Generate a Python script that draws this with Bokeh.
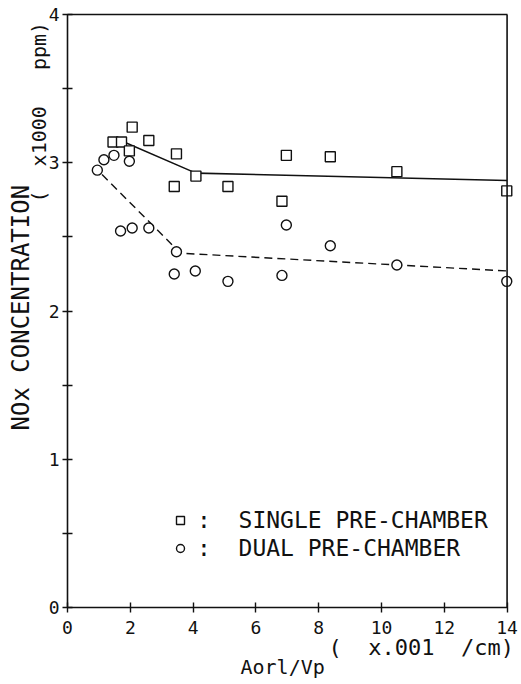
from bokeh.plotting import figure
from bokeh.models import (Range1d, FixedTicker, Legend, LegendItem,
                          LinearAxis, Span, Title)
from bokeh.embed import file_html
from bokeh.resources import INLINE

# ---------------- data ----------------
single_x = [1.45, 1.72, 1.97, 2.06, 2.59, 3.40, 3.47, 4.09, 5.11, 6.83, 6.97, 8.37, 10.49, 13.99]
single_y = [3.14, 3.14, 3.08, 3.24, 3.15, 2.84, 3.06, 2.91, 2.84, 2.74, 3.05, 3.04, 2.94, 2.81]

dual_x = [0.95, 1.16, 1.48, 1.97, 1.69, 2.06, 2.59, 3.47, 3.40, 4.07, 5.11, 6.83, 6.97, 8.37, 10.49, 13.99]
dual_y = [2.95, 3.02, 3.05, 3.01, 2.54, 2.56, 2.56, 2.40, 2.25, 2.27, 2.20, 2.24, 2.58, 2.44, 2.31, 2.20]

single_fit_x = [1.47, 4.09, 14.0]
single_fit_y = [3.17, 2.93, 2.88]
dual_fit_x = [1.10, 3.60, 14.0]
dual_fit_y = [2.92, 2.39, 2.27]

x_ticks = [0, 2, 4, 6, 8, 10, 12, 14]
y_ticks = [0, 1, 2, 3, 4]
y_minor_ticks = [0.5, 1.5, 2.5, 3.5]

NB = "\u00a0"  # keeps the plotter's wide gaps from collapsing
y_title = "NOx CONCENTRATION"
y_unit = "(" + NB * 2 + "x1000" + NB * 3 + "ppm)"
x_title = "Aorl/Vp"
x_unit = "(" + NB * 2 + "x.001" + NB * 2 + "/cm)"
single_label = ":" + NB * 2 + "SINGLE PRE-CHAMBER"
dual_label = ":" + NB * 2 + "DUAL PRE-CHAMBER"

FONT = "DejaVu Sans Mono"
INK = "#111111"

# ---------------- figure ----------------
p = figure(width=521, height=684, output_backend="svg", toolbar_location=None,
           x_range=Range1d(0, 14.3), y_range=Range1d(0, 4),
           min_border_left=67, min_border_right=5,
           min_border_top=14, min_border_bottom=77)
p.outline_line_color = None
p.xgrid.visible = False
p.ygrid.visible = False
p.background_fill_color = "white"
p.border_fill_color = "white"

# axes
xa = p.xaxis[0]
xa.ticker = FixedTicker(ticks=x_ticks)
xa.bounds = (0, 14)
xa.major_tick_in = 5
xa.major_tick_out = 5
xa.major_label_standoff = 8
ya = p.yaxis[0]
ya.ticker = FixedTicker(ticks=y_ticks, minor_ticks=y_minor_ticks)
ya.major_tick_in = 5
ya.major_tick_out = 5
ya.minor_tick_in = 5
ya.minor_tick_out = 5
ya.major_label_standoff = 3
for ax in (xa, ya):
    ax.axis_line_color = INK
    ax.axis_line_width = 1.6
    ax.major_tick_line_color = INK
    ax.major_tick_line_width = 1.4
    ax.minor_tick_line_width = 1.4
    ax.major_label_text_font = FONT
    ax.major_label_text_font_size = "18px"
    ax.major_label_text_color = INK
xa.minor_tick_line_color = None
ya.minor_tick_line_color = INK

# top border as an axis line limited to 0..14
top = LinearAxis(ticker=FixedTicker(ticks=[]), bounds=(0, 14),
                 major_tick_out=0, major_tick_in=0, major_label_standoff=0,
                 axis_line_color=INK, axis_line_width=1.6)
p.add_layout(top, "above")
# right border at x = 14
p.add_layout(Span(location=14, dimension="height", line_color=INK, line_width=1.6))

# ---------------- fitted lines ----------------
p.line(single_fit_x, single_fit_y, line_color=INK, line_width=1.6)
p.line(dual_fit_x, dual_fit_y, line_color=INK, line_width=1.4, line_dash="8 5")

# ---------------- points ----------------
sq = p.scatter(single_x, single_y, marker="square", size=10, fill_color="white",
               line_color=INK, line_width=1.4)
ci = p.scatter(dual_x, dual_y, marker="circle", size=10, fill_color="white",
               line_color=INK, line_width=1.4)

# ---------------- legend (one box per row, plotter-style tight rows) ----------------
def legend_row(label, renderer, loc):
    return Legend(items=[LegendItem(label=label, renderers=[renderer])],
                  location=loc, border_line_color=None,
                  background_fill_alpha=0, padding=0, margin=0,
                  glyph_width=20, glyph_height=20, label_standoff=7,
                  label_text_font=FONT, label_text_font_size="23px",
                  label_text_color=INK)

p.add_layout(legend_row(single_label, sq, (103, 74)))
p.add_layout(legend_row(dual_label, ci, (103, 46)))

# ---------------- axis titles (stacked outward from the frame) ----------------
def title(text, size, offset, standoff):
    return Title(text=text, align="left", offset=offset, standoff=standoff,
                 text_font=FONT, text_font_size=size,
                 text_font_style="normal", text_color=INK)

p.add_layout(title(y_unit, "20px", 405, -11), "left")
p.add_layout(title(y_title, "24px", 177, -9), "left")
p.add_layout(title(x_unit, "22px", 261, -8), "below")
p.add_layout(title(x_title, "20px", 173, -6), "below")

open("out.html", "w").write(file_html(p, INLINE))
